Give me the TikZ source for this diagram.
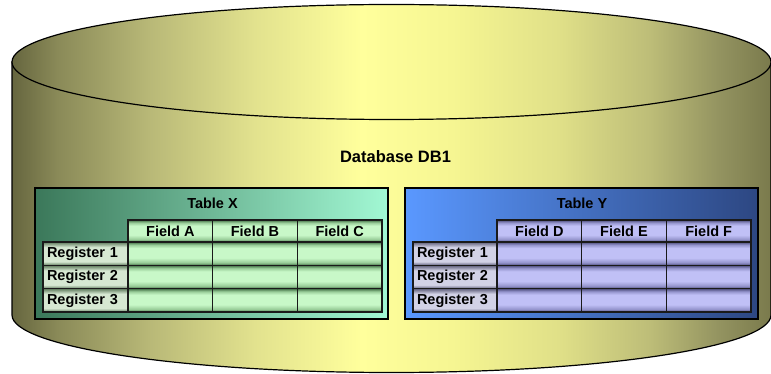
\documentclass[tikz,border=0pt]{standalone}
\usepackage{fontspec}
\setmainfont{Liberation Sans}
\usetikzlibrary{positioning,calc}
% cylinder colours
\definecolor{dbS0}{HTML}{66663F}
\definecolor{dbS1}{HTML}{8A8A58}
\definecolor{dbS2}{HTML}{B8B877}
\definecolor{dbS3}{HTML}{E2E28E}
\definecolor{dbS4}{HTML}{FFFF9C}
\definecolor{dbS5}{HTML}{F6F692}
\definecolor{dbS6}{HTML}{E0E088}
\definecolor{dbS7}{HTML}{BDBD78}
\definecolor{dbS8}{HTML}{939360}
\definecolor{dbS9}{HTML}{7A7A4C}
% table colours
\definecolor{tabXleft}{HTML}{3B785A}
\definecolor{tabXright}{HTML}{A2F8D4}
\definecolor{tabYleft}{HTML}{5A98FF}
\definecolor{tabYright}{HTML}{2D4782}
\definecolor{cellXdark}{HTML}{426E46}
\definecolor{cellXmid}{HTML}{98CC98}
\definecolor{cellXlight}{HTML}{C8F8C8}
\definecolor{regXdark}{HTML}{5E7A5C}
\definecolor{regXlight}{HTML}{D6E8D2}
\definecolor{cellYdark}{HTML}{4C4C7A}
\definecolor{cellYmid}{HTML}{9494CC}
\definecolor{cellYlight}{HTML}{C0C0F6}
\definecolor{regYdark}{HTML}{5E5E7A}
\definecolor{regYlight}{HTML}{D2D2E6}
\definecolor{cellLine}{HTML}{1A1A1A}
\pgfdeclarehorizontalshading{dbShade}{100bp}{color(0bp)=(dbS0); color(25bp)=(dbS0); color(28bp)=(dbS1); color(34bp)=(dbS2); color(41bp)=(dbS3); color(48bp)=(dbS4); color(54bp)=(dbS5); color(61bp)=(dbS6); color(67bp)=(dbS7); color(71.6bp)=(dbS8); color(75bp)=(dbS9); color(100bp)=(dbS9)}
\pgfdeclareverticalshading{cellX}{100bp}{color(0bp)=(cellXdark); color(25bp)=(cellXdark); color(31bp)=(cellXmid); color(41bp)=(cellXlight); color(62bp)=(cellXlight); color(69bp)=(cellXmid); color(75bp)=(cellXdark); color(100bp)=(cellXdark)}
\pgfdeclareverticalshading{regX}{100bp}{color(0bp)=(regXdark); color(25bp)=(regXdark); color(33bp)=(regXlight); color(64bp)=(regXlight); color(75bp)=(regXdark); color(100bp)=(regXdark)}
\pgfdeclareverticalshading{cellY}{100bp}{color(0bp)=(cellYdark); color(25bp)=(cellYdark); color(31bp)=(cellYmid); color(41bp)=(cellYlight); color(62bp)=(cellYlight); color(69bp)=(cellYmid); color(75bp)=(cellYdark); color(100bp)=(cellYdark)}
\pgfdeclareverticalshading{regY}{100bp}{color(0bp)=(regYdark); color(25bp)=(regYdark); color(33bp)=(regYlight); color(64bp)=(regYlight); color(75bp)=(regYdark); color(100bp)=(regYdark)}
\tikzset{
    dbOutline/.style={draw=black, line width=1.2pt, shading=dbShade},
    dbLabel/.style={font=\fontsize{16.5}{18}\selectfont\bfseries},
    tableBox/.style={
        draw=black,
        line width=2.4pt,
        anchor=north west,
        minimum width=353pt,
        minimum height=131pt,
        inner sep=0pt
    },
    tabTitle/.style={font=\fontsize{14.5}{16}\selectfont\bfseries},
    cellBase/.style={
        draw=cellLine,
        line width=1.3pt,
        anchor=north west,
        inner sep=0pt,
        outer sep=0pt,
        font=\fontsize{14.5}{16}\selectfont\bfseries
    },
    fieldHead/.style={cellBase, shading=cell#1, minimum width=84.67pt, minimum height=22pt},
    dataCell/.style={cellBase, shading=cell#1, minimum width=84.67pt, minimum height=23.33pt},
    regCell/.style={cellBase, shading=reg#1, inner xsep=4pt, text width=77pt, align=left, minimum height=23.33pt}
}
\begin{document}
\begin{tikzpicture}[x=1pt, y=-1pt]
\useasboundingbox[fill=white] (0,0) rectangle (771,374);

% database cylinder
\coordinate (dbTop) at (391.5,62);
\shade[dbOutline] (12,62) -- (12,315) arc[start angle=180, end angle=360, x radius=379.5pt, y radius=57.5pt] -- (771,62) -- cycle;
\shade[dbOutline] (dbTop) ellipse [x radius=379.5pt, y radius=57.5pt];
\node[dbLabel] (db) at (395.5,157) {Database DB1};

% Table X
\node[tableBox, left color=tabXleft, right color=tabXright] (tabX) at (34,187) {};
\node[tabTitle] (tabX-title) at (212.5,203) {Table X};
\foreach \f [count=\i] in {Field A,Field B,Field C}
    \node[fieldHead=X] (tabX-f\i) at (128+84.67*\i-84.67,220) {\f};
\foreach \r in {1,2,3} {
    \node[regCell=X] (tabX-r\r) at (43,242+23.33*\r-23.33) {Register \r};
    \foreach \i in {1,2,3}
        \node[dataCell=X] (tabX-c\r\i) at (128+84.67*\i-84.67,242+23.33*\r-23.33) {};
}

% Table Y
\node[tableBox, left color=tabYleft, right color=tabYright] (tabY) at (404,187) {};
\node[tabTitle] (tabY-title) at (582,203) {Table Y};
\foreach \f [count=\i] in {Field D,Field E,Field F}
    \node[fieldHead=Y] (tabY-f\i) at (497+84.67*\i-84.67,220) {\f};
\foreach \r in {1,2,3} {
    \node[regCell=Y] (tabY-r\r) at (413,242+23.33*\r-23.33) {Register \r};
    \foreach \i in {1,2,3}
        \node[dataCell=Y] (tabY-c\r\i) at (497+84.67*\i-84.67,242+23.33*\r-23.33) {};
}
\end{tikzpicture}
\end{document}
